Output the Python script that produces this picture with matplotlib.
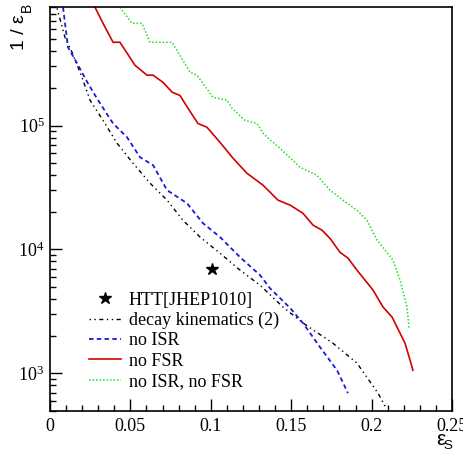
import numpy as np
import matplotlib
matplotlib.use('Agg')
import matplotlib.pyplot as plt
from matplotlib.ticker import LogLocator, MultipleLocator, NullFormatter

plt.rcParams['font.family'] = ['Liberation Serif', 'DejaVu Serif']
plt.rcParams['mathtext.fontset'] = 'stix'

# values
decay_x = [0.0044, 0.0093, 0.0137, 0.0199, 0.0249, 0.033, 0.0417, 0.0516, 0.0622, 0.0728,
           0.0827, 0.0933, 0.1057, 0.1182, 0.1306, 0.1449, 0.1573, 0.176, 0.1909, 0.204, 0.209]
decay_y = [8.83e5, 5.15e5, 3.90e5, 2.45e5, 1.60e5, 1.10e5, 7.20e4, 4.97e4, 3.43e4, 2.50e4,
           1.72e4, 1.26e4, 9.33e3, 6.81e3, 5.15e3, 3.43e3, 2.55e3, 1.75e3, 1.21e3, 693, 525]

noisr_x = [0.0081, 0.0112, 0.0168, 0.0236, 0.0299, 0.0392, 0.0479, 0.056, 0.0641, 0.0728,
           0.0852, 0.0951, 0.1057, 0.1182, 0.1306, 0.1368, 0.1493, 0.1573, 0.1679, 0.1785, 0.1853]
noisr_y = [9.0e5, 4.28e5, 3.18e5, 2.19e5, 1.60e5, 1.04e5, 8.05e4, 5.55e4, 4.79e4, 3.01e4,
           2.36e4, 1.63e4, 1.26e4, 8.66e3, 6.21e3, 4.87e3, 3.37e3, 2.55e3, 1.63e3, 1.06e3, 693]

nofsr_x = [0.028, 0.033, 0.0392, 0.0435, 0.0529, 0.0603, 0.0641, 0.0703, 0.0759, 0.0808,
           0.0858, 0.092, 0.0976, 0.1057, 0.1138, 0.1225, 0.1325, 0.1418, 0.1493, 0.1573,
           0.1636, 0.1692, 0.1741, 0.1803, 0.1853, 0.1909, 0.2009, 0.2071, 0.2127, 0.2177,
           0.2208, 0.2239, 0.2257]
nofsr_y = [9.0e5, 6.68e5, 4.70e5, 4.70e5, 3.06e5, 2.55e5, 2.55e5, 2.23e5, 1.86e5, 1.75e5,
           1.38e5, 1.04e5, 9.69e4, 7.33e4, 5.45e4, 4.12e4, 3.30e4, 2.50e4, 2.28e4, 1.96e4,
           1.57e4, 1.43e4, 1.23e4, 9.51e3, 8.51e3, 6.81e3, 4.70e3, 3.43e3, 2.85e3, 2.11e3,
           1.75e3, 1.28e3, 1.06e3]

noboth_x = [0.0435, 0.051, 0.0572, 0.0622, 0.0759, 0.0871, 0.0914, 0.1014, 0.1101, 0.1132,
            0.1213, 0.1287, 0.1325, 0.135, 0.143, 0.1555, 0.166, 0.1741, 0.1822, 0.1909,
            0.1971, 0.2034, 0.2133, 0.2177, 0.222, 0.2233]
noboth_y = [9.0e5, 6.68e5, 6.68e5, 4.70e5, 4.70e5, 2.69e5, 2.55e5, 1.69e5, 1.60e5, 1.38e5,
            1.10e5, 1.04e5, 8.67e4, 8.05e4, 6.56e4, 4.61e4, 3.97e4, 3.01e4, 2.50e4, 2.07e4,
            1.72e4, 1.19e4, 8.20e3, 5.65e3, 3.43e3, 2.32e3]

htt_x = [0.101]
htt_y = [7000]

fig = plt.figure(figsize=(4.64, 4.53), dpi=100)
ax = fig.add_axes([50/464, 1-410.7/453, 402/464, 403.4/453])

ax.plot(htt_x, htt_y, ls='none', marker='*', ms=9, color='k', label='HTT[JHEP1010]')
ax.plot(decay_x, decay_y, color='k', lw=1.0, ls=(0, (1, 2.5, 1, 2.5, 3, 2.5)),
        label='decay kinematics (2)')
ax.plot(noisr_x, noisr_y, color='#1a1ad9', lw=1.3, ls=(0, (2.5, 1.8)), label='no ISR')
ax.plot(nofsr_x, nofsr_y, color='#d40000', lw=1.2, label='no FSR')
ax.plot(noboth_x, noboth_y, color='#22dd22', lw=1.1, ls=(0, (1, 1.3)), label='no ISR, no FSR')

ax.set_yscale('log')
ax.set_xlim(0, 0.25)
ax.set_ylim(500, 9e5)

ax.xaxis.set_major_locator(MultipleLocator(0.05))
ax.xaxis.set_minor_locator(MultipleLocator(0.01))
ax.xaxis.set_major_formatter(matplotlib.ticker.FuncFormatter(lambda v, p: '0' if v == 0 else ('%g' % v)))
ax.yaxis.set_major_locator(LogLocator(base=10))
ax.yaxis.set_minor_locator(LogLocator(base=10, subs=np.arange(2, 10)))
ax.yaxis.set_minor_formatter(NullFormatter())

ax.tick_params(which='both', direction='in', top=False, right=False, labelsize=13)
ax.tick_params(which='major', length=8.5, width=1.0)
ax.tick_params(which='minor', length=4.5, width=1.0)
ax.tick_params(axis='x', pad=5)
ax.tick_params(axis='y', pad=4)
for s in ax.spines.values():
    s.set_linewidth(1.2)

leg = ax.legend(loc='lower left', bbox_to_anchor=(80/464, 1-399/453),
                bbox_transform=fig.transFigure, frameon=False, fontsize=13,
                handlelength=1.75, handletextpad=0.45, labelspacing=0.18, borderpad=0)

# axis titles in ROOT's sans font, subscripts as separate small texts
sans = ['Liberation Sans', 'DejaVu Sans']
fig.text(20/464, 1-14/453, '1 / ε', rotation=90, ha='center', va='top',
         fontsize=14, family=sans)
fig.text(27/464, 1-3/453, 'B', rotation=90, ha='center', va='top',
         fontsize=10, family=sans)
fig.text(446/464, 1-430/453, 'ε', ha='right', va='top', fontsize=15, family=sans)
fig.text(452/464, 1-440/453, 'S', ha='right', va='top', fontsize=9.5, family=sans)

fig.savefig('out.png', dpi=100)
